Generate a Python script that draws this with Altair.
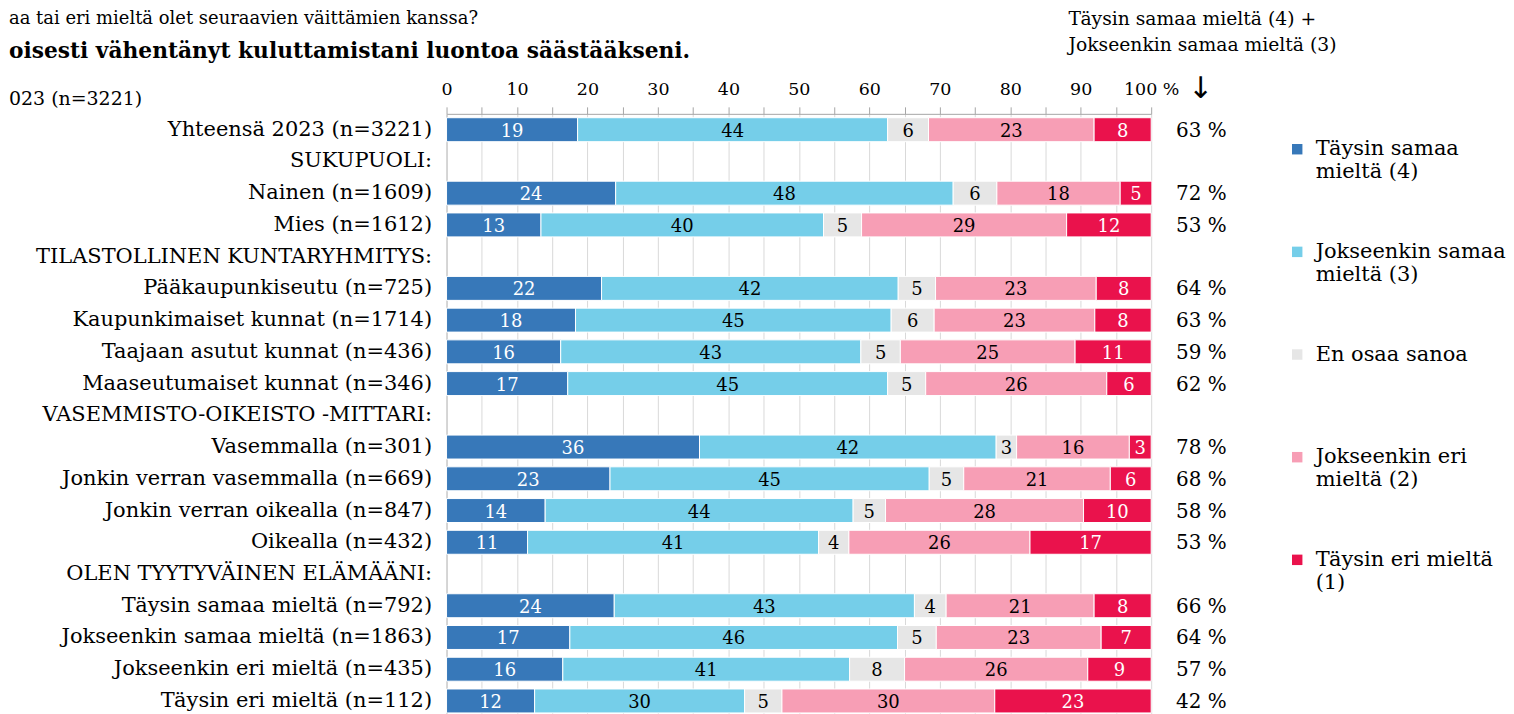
import altair as alt
import pandas as pd

rows = [
    "Yhteensä 2023 (n=3221)",
    "SUKUPUOLI:",
    "Nainen (n=1609)",
    "Mies (n=1612)",
    "TILASTOLLINEN KUNTARYHMITYS:",
    "Pääkaupunkiseutu (n=725)",
    "Kaupunkimaiset kunnat (n=1714)",
    "Taajaan asutut kunnat (n=436)",
    "Maaseutumaiset kunnat (n=346)",
    "VASEMMISTO-OIKEISTO -MITTARI:",
    "Vasemmalla (n=301)",
    "Jonkin verran vasemmalla (n=669)",
    "Jonkin verran oikealla (n=847)",
    "Oikealla (n=432)",
    "OLEN TYYTYVÄINEN ELÄMÄÄNI:",
    "Täysin samaa mieltä (n=792)",
    "Jokseenkin samaa mieltä (n=1863)",
    "Jokseenkin eri mieltä (n=435)",
    "Täysin eri mieltä (n=112)",
]

cats = [
    "Täysin samaa mieltä (4)",
    "Jokseenkin samaa mieltä (3)",
    "En osaa sanoa",
    "Jokseenkin eri mieltä (2)",
    "Täysin eri mieltä (1)",
]
colors = ["#3778B9", "#75CEE9", "#E6E6E6", "#F79EB5", "#EA124C"]
text_colors = ["white", "black", "black", "black", "white"]

# segment widths (%)
v_ts = [18.6, None, 24.0, 13.4, None, 22.0, 18.3, 16.2, 17.2, None, 35.9, 23.2, 14.0, 11.5, None, 23.8, 17.5, 16.5, 12.5]
v_js = [44.0, None, 47.9, 40.1, None, 42.1, 44.8, 42.6, 45.4, None, 42.1, 45.3, 43.7, 41.3, None, 42.6, 46.5, 40.7, 29.8]
v_eos = [5.8, None, 6.2, 5.4, None, 5.3, 6.1, 5.6, 5.4, None, 2.9, 4.9, 4.6, 4.3, None, 4.5, 5.5, 7.8, 5.3]
v_je = [23.5, None, 17.5, 29.1, None, 22.8, 22.8, 24.8, 25.7, None, 16.0, 20.8, 28.1, 25.7, None, 21.0, 23.4, 26.0, 30.2]
v_te = [8.1, None, 4.5, 12.0, None, 7.8, 8.0, 10.8, 6.3, None, 3.1, 5.8, 9.6, 17.2, None, 8.1, 7.1, 9.0, 22.2]

# printed labels
lab_ts = [19, None, 24, 13, None, 22, 18, 16, 17, None, 36, 23, 14, 11, None, 24, 17, 16, 12]
lab_js = [44, None, 48, 40, None, 42, 45, 43, 45, None, 42, 45, 44, 41, None, 43, 46, 41, 30]
lab_eos = [6, None, 6, 5, None, 5, 6, 5, 5, None, 3, 5, 5, 4, None, 4, 5, 8, 5]
lab_je = [23, None, 18, 29, None, 23, 23, 25, 26, None, 16, 21, 28, 26, None, 21, 23, 26, 30]
lab_te = [8, None, 5, 12, None, 8, 8, 11, 6, None, 3, 6, 10, 17, None, 8, 7, 9, 23]

totals = ["63 %", None, "72 %", "53 %", None, "64 %", "63 %", "59 %", "62 %", None,
          "78 %", "68 %", "58 %", "53 %", None, "66 %", "64 %", "57 %", "42 %"]

x_ticks = [0, 5, 10, 15, 20, 25, 30, 35, 40, 45, 50, 55, 60, 65, 70, 75, 80, 85, 90, 95, 100]

# ---- build tables ----
series = [v_ts, v_js, v_eos, v_je, v_te]
labels = [lab_ts, lab_js, lab_eos, lab_je, lab_te]
recs = []
for i, r in enumerate(rows):
    for k in range(5):
        if series[k][i] is None:
            continue
        recs.append({"row": r, "cat": cats[k], "k": k, "value": series[k][i],
                     "label": str(labels[k][i]), "tcolor": text_colors[k]})
df = pd.DataFrame(recs)
df_tot = pd.DataFrame([{"row": r, "tot": t} for r, t in zip(rows, totals) if t is not None])

FONT = "DejaVu Serif"
W, H = 707, 605

x_axis = alt.Axis(orient="top", values=x_ticks, title=None,
                  labelExpr="datum.value % 10 == 0 ? (datum.value == 100 ? '100 %' : datum.label) : ''",
                  grid=True, gridColor="#d9d9d9", gridWidth=1,
                  domainColor="#a6a6a6", tickColor="#a6a6a6", tickSize=7,
                  labelFont=FONT, labelFontSize=17.5, labelColor="black", labelPadding=8,
                  labelFlush=False, labelOverlap=False)
x_scale = alt.Scale(domain=[0, 100], nice=False)
y_axis = alt.Axis(title=None, labelFont=FONT, labelFontSize=21, labelColor="black",
                  labelPadding=15, ticks=False, domainColor="#bfbfbf", labelLimit=0, grid=False)
y_scale = alt.Scale(domain=rows, paddingInner=0.245, paddingOuter=0.1225)

label_expr = (
    "datum.label == 'Täysin samaa mieltä (4)' ? ['Täysin samaa', 'mieltä (4)'] : "
    "datum.label == 'Jokseenkin samaa mieltä (3)' ? ['Jokseenkin samaa', 'mieltä (3)'] : "
    "datum.label == 'En osaa sanoa' ? ['En osaa sanoa', ' '] : "
    "datum.label == 'Jokseenkin eri mieltä (2)' ? ['Jokseenkin eri', 'mieltä (2)'] : "
    "['Täysin eri mieltä', '(1)']"
)

base = alt.Chart(df).transform_stack(
    stack="value", groupby=["row"], as_=["x0", "x1"], sort=[alt.SortField("k", order="ascending")]
).transform_calculate(mid="(datum.x0 + datum.x1) / 2")

bars = base.mark_bar(stroke="white", strokeWidth=1).encode(
    y=alt.Y("row:N", scale=y_scale, axis=y_axis, sort=rows),
    x=alt.X("x0:Q", scale=x_scale, axis=x_axis),
    x2="x1:Q",
    color=alt.Color("cat:N", scale=alt.Scale(domain=cats, range=colors),
                    legend=alt.Legend(title=None, orient="none", legendX=843, legendY=25,
                                      symbolType="square", symbolSize=110, symbolStrokeWidth=0,
                                      labelFont=FONT, labelFontSize=21, labelColor="black",
                                      labelLimit=0, labelOffset=8, rowPadding=58, padding=0,
                                      labelExpr=label_expr)),
)

texts = base.mark_text(font=FONT, fontSize=18, baseline="middle", dy=2).encode(
    y=alt.Y("row:N", scale=y_scale, axis=y_axis, sort=rows),
    x=alt.X("mid:Q", scale=x_scale, axis=x_axis),
    text="label:N",
    color=alt.Color("tcolor:N", scale=None),
)

tot = alt.Chart(df_tot).mark_text(font=FONT, fontSize=20, align="left", baseline="middle", dy=1).encode(
    y=alt.Y("row:N", scale=y_scale, axis=y_axis, sort=rows),
    x=alt.value(732),
    text="tot:N",
)

def note(txt, x, y, size, weight="normal", font=FONT, baseline="middle"):
    return alt.Chart(pd.DataFrame({"t": [txt]})).mark_text(
        font=font, fontSize=size, fontWeight=weight, align="left", baseline=baseline, color="black"
    ).encode(x=alt.value(x), y=alt.value(y), text="t:N")

notes = [
    note("Täysin samaa mieltä (4) +", 624, -95, 18.8),
    note("Jokseenkin samaa mieltä (3)", 624, -69, 18.8),
    note("↓", 744, -25, 30, font="DejaVu Sans"),
    note("aa tai eri mieltä olet seuraavien väittämien kanssa?", -439, -104, 18, baseline="top"),
    note("oisesti  vähentänyt kuluttamistani luontoa säästääkseni.", -439, -63, 21.8, weight="bold"),
    note("023 (n=3221)", -439, -15, 19),
]

chart = alt.layer(bars, texts, tot, *notes).properties(
    width=W, height=H,
    autosize=alt.AutoSizeParams(type="none"),
    padding={"left": 440, "top": 105, "right": 356, "bottom": 0},
).configure_view(stroke=None)

chart.save("out.html", embed_options={"renderer": "svg", "actions": False})
